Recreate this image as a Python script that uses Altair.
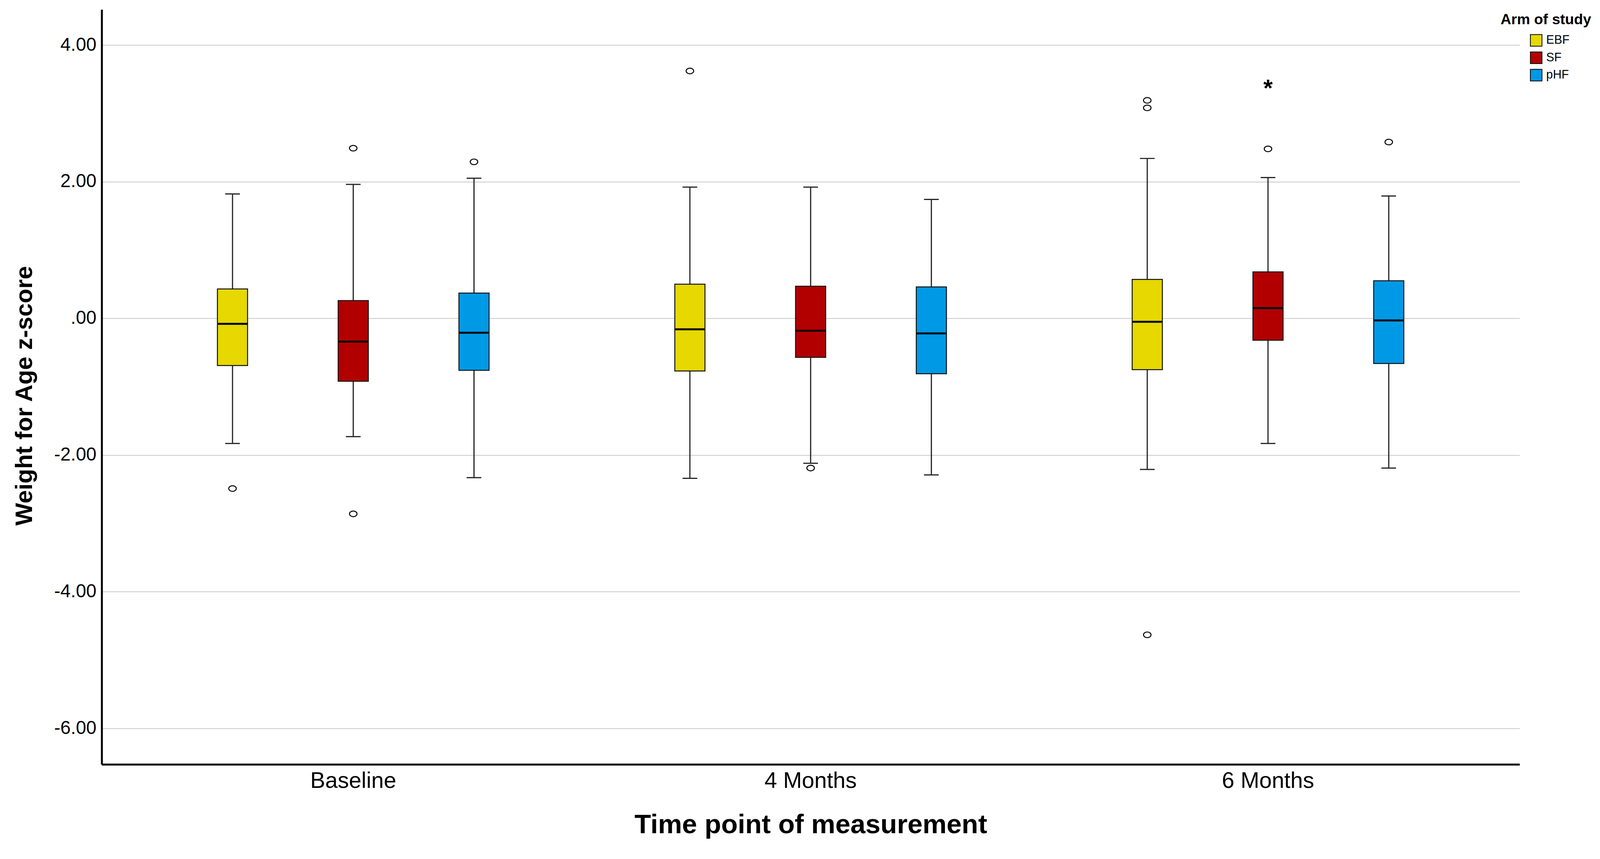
import altair as alt
import pandas as pd

# ---- data ----
timepoints = ["Baseline", "4 Months", "6 Months"]
arms = ["EBF", "SF", "pHF"]
arm_colors = ["#E6D800", "#B20000", "#0099E6"]

# order: Baseline(EBF,SF,pHF), 4 Months(EBF,SF,pHF), 6 Months(EBF,SF,pHF)
whisker_low = [-1.83, -1.73, -2.33, -2.34, -2.12, -2.29, -2.21, -1.83, -2.19]
q1 = [-0.69, -0.92, -0.76, -0.77, -0.57, -0.81, -0.75, -0.32, -0.66]
median = [-0.08, -0.34, -0.21, -0.16, -0.18, -0.22, -0.05, 0.15, -0.03]
q3 = [0.43, 0.26, 0.37, 0.50, 0.47, 0.46, 0.57, 0.68, 0.55]
whisker_high = [1.82, 1.96, 2.05, 1.92, 1.92, 1.74, 2.34, 2.06, 1.79]

outlier_time = ["Baseline", "Baseline", "Baseline", "Baseline",
                "4 Months", "4 Months",
                "6 Months", "6 Months", "6 Months", "6 Months", "6 Months"]
outlier_arm = ["EBF", "SF", "SF", "pHF",
               "EBF", "SF",
               "EBF", "EBF", "EBF", "SF", "pHF"]
outlier_value = [-2.49, 2.49, -2.86, 2.29,
                 3.62, -2.19,
                 3.19, 3.08, -4.63, 2.48, 2.58]

extreme_time = ["6 Months"]
extreme_arm = ["SF"]
extreme_value = [3.45]

y_ticks = [-6, -4, -2, 0, 2, 4]

# ---- tables ----
stats = pd.DataFrame({
    "time": [t for t in timepoints for _ in arms],
    "arm": [a for _ in timepoints for a in arms],
    "low": whisker_low, "q1": q1, "median": median, "q3": q3, "high": whisker_high,
})
outs = pd.DataFrame({"time": outlier_time, "arm": outlier_arm, "value": outlier_value})
extr = pd.DataFrame({"time": extreme_time, "arm": extreme_arm, "value": extreme_value})

FONT = "Liberation Sans"
YTITLE = "Weight for Age z-score"

x_enc = alt.X("time:N", sort=timepoints,
              scale=alt.Scale(paddingInner=0, paddingOuter=0.05),
              axis=alt.Axis(title="Time point of measurement", labelAngle=0,
                            labelFontSize=58, labelPadding=14, labelColor="black",
                            labelLimit=0,
                            ticks=False, domainColor="black", domainWidth=5,
                            grid=False, titleFontSize=70, titleFontWeight="bold",
                            titleColor="black", titleY=178,
                            titleBaseline="alphabetic"))
xo_enc = alt.XOffset("arm:N", sort=arms,
                     scale=alt.Scale(paddingInner=0, paddingOuter=0.394))

yscale = alt.Scale(domain=[-6.526, 4.52], nice=False, zero=False)
yaxis = alt.Axis(values=y_ticks, grid=True, gridColor="#c8c8c8", gridWidth=2,
                 ticks=False, domainColor="black", domainWidth=5,
                 labelFontSize=48, labelPadding=14, labelColor="black",
                 labelLimit=0,
                 labelExpr="datum.value == 0 ? '.00' : (datum.value < 0 ? '-' : '') + format(abs(datum.value), '.2f')",
                 titleFontSize=62, titleFontWeight="bold", titleColor="black",
                 titleX=-200, titleY=999, titleBaseline="middle", titleLimit=0)


def Y(field):
    return alt.Y(field, type="quantitative", scale=yscale, axis=yaxis, title=YTITLE)


base = alt.Chart(stats).encode(x=x_enc, xOffset=xo_enc)

whiskers = base.mark_rule(color="#222222", strokeWidth=3).encode(
    y=Y("low"), y2="high")

boxes = base.mark_bar(size=78, stroke="#111111", strokeWidth=2.5).encode(
    y=Y("q1"), y2="q3",
    color=alt.Color("arm:N", sort=arms,
                    scale=alt.Scale(domain=arms, range=arm_colors),
                    legend=alt.Legend(title="Arm of study", orient="none",
                                      legendX=3619, legendY=8, padding=0,
                                      titleFontSize=38, titleFontWeight="bold",
                                      titleColor="black", titlePadding=18,
                                      titleLimit=0, labelLimit=0,
                                      labelFontSize=31, labelColor="black",
                                      labelOffset=10, rowPadding=7,
                                      symbolType="square", symbolSize=900,
                                      symbolStrokeColor="black",
                                      symbolStrokeWidth=2, symbolOffset=76)))

medians = base.mark_tick(size=76, thickness=5, color="black", opacity=1).encode(
    y=Y("median"))

caps_low = base.mark_tick(size=38, thickness=3, color="#222222", opacity=1).encode(
    y=Y("low"))
caps_high = base.mark_tick(size=38, thickness=3, color="#222222", opacity=1).encode(
    y=Y("high"))

ellipse = "M-1,0A1,0.75,0,1,1,1,0A1,0.75,0,1,1,-1,0Z"
outliers = alt.Chart(outs).mark_point(
    shape=ellipse, filled=False, stroke="black", strokeWidth=2.5, size=380,
    opacity=1).encode(x=x_enc, xOffset=xo_enc, y=Y("value"))

stars = alt.Chart(extr).mark_text(
    text="*", fontSize=62, fontWeight="bold", color="black",
    baseline="middle", dy=16, font=FONT).encode(
    x=x_enc, xOffset=xo_enc, y=Y("value"))

chart = alt.layer(whiskers, caps_low, caps_high, boxes, medians, outliers, stars).properties(
    width=3668, height=1953,
    autosize=alt.AutoSizeParams(type="none"),
    padding={"left": 255, "top": 5, "right": 200, "bottom": 200},
).configure(font=FONT).configure_view(stroke=None)

chart.save("out.html", embed_options={"renderer": "svg", "actions": False})
